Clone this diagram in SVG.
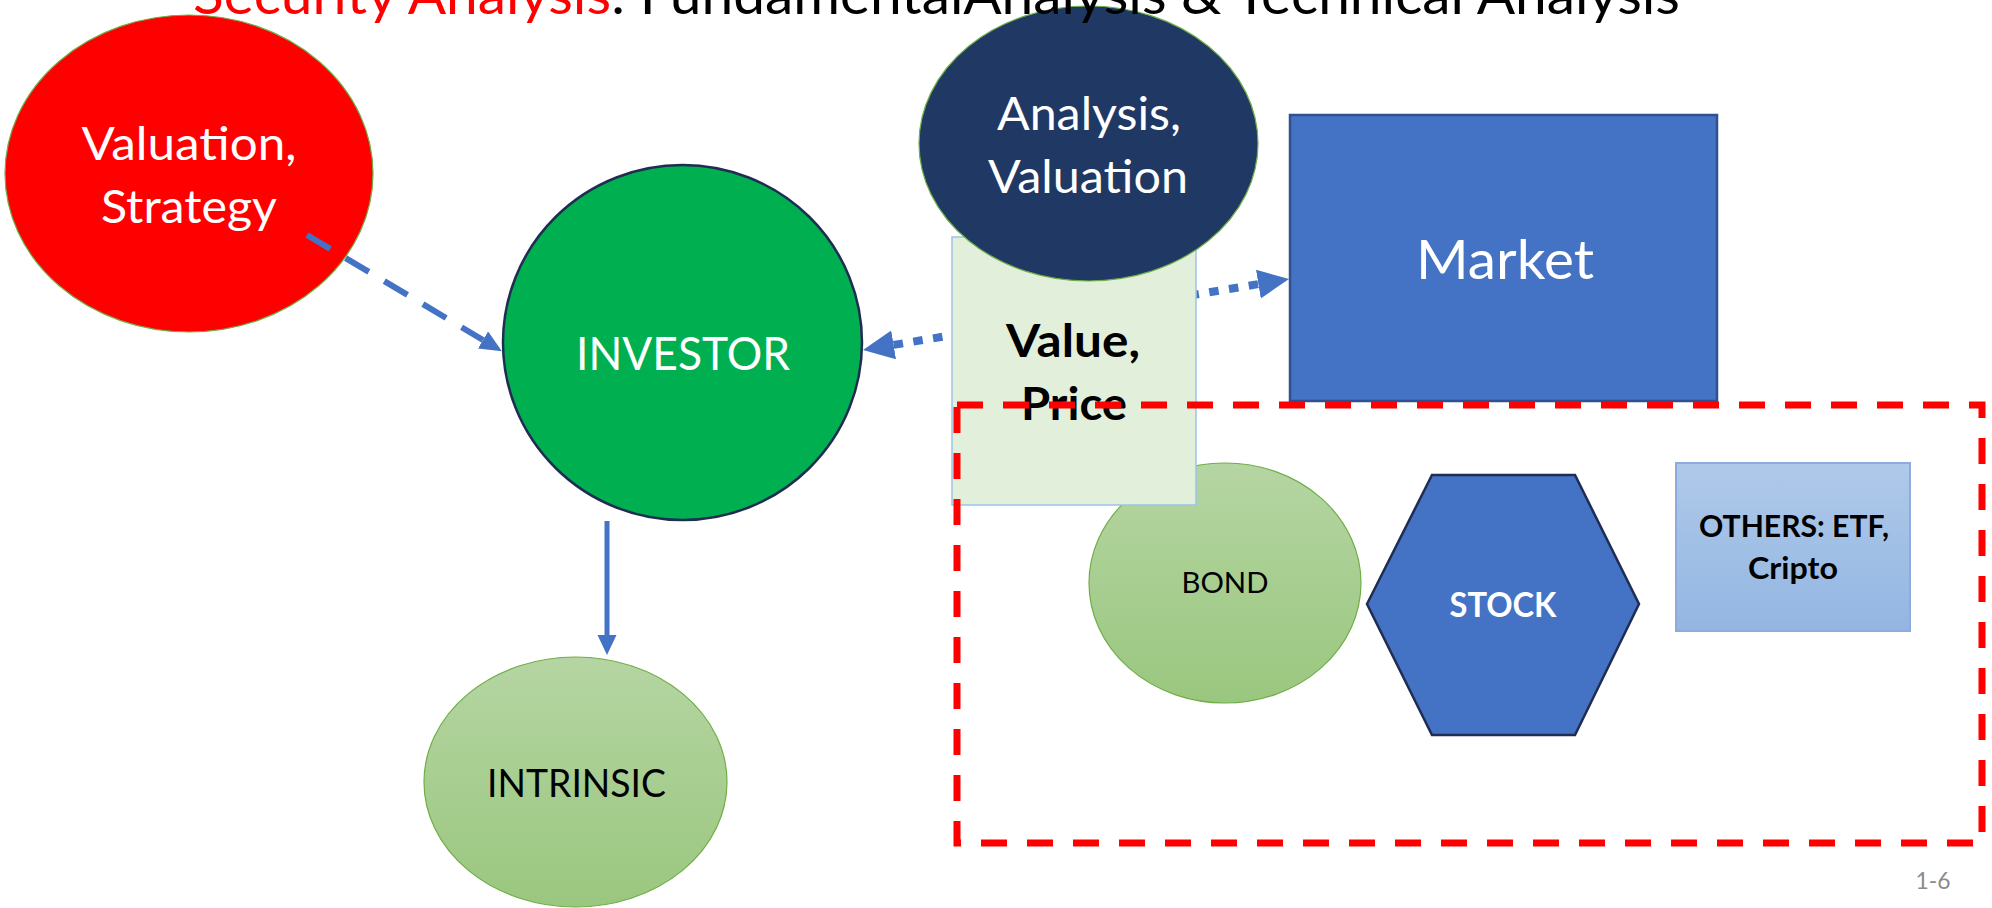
<svg xmlns="http://www.w3.org/2000/svg" width="1992" height="908" viewBox="0 0 1992 908">
  <style>
    text { font-family: Lato, "Liberation Sans", sans-serif; text-anchor: middle; }
    .w { fill: #FFFFFF; }
    .k { fill: #000000; }
    .b { font-weight: bold; }
    .conn { fill: none; stroke: #4472C4; }
    .thin-green { stroke: #70AD47; stroke-width: 1.2; }
  </style>
  <defs>
    <linearGradient id="gGreen" x1="0" y1="0" x2="0" y2="1">
      <stop offset="0" stop-color="#B5D5A2"/>
      <stop offset="1" stop-color="#9AC77F"/>
    </linearGradient>
    <linearGradient id="gBlue" x1="0" y1="0" x2="0" y2="1">
      <stop offset="0" stop-color="#AFC9E9"/>
      <stop offset="1" stop-color="#93B6E2"/>
    </linearGradient>
    <marker id="mDash" markerUnits="userSpaceOnUse" markerWidth="23" markerHeight="21" refX="0" refY="10" orient="auto">
      <path d="M0,0 L22,10 L0,20 Z" fill="#4472C4"/>
    </marker>
    <marker id="mSolid" markerUnits="userSpaceOnUse" markerWidth="21" markerHeight="20" refX="0" refY="9.5" orient="auto">
      <path d="M0,0 L20,9.5 L0,19 Z" fill="#4472C4"/>
    </marker>
    <marker id="mDot" markerUnits="userSpaceOnUse" markerWidth="32" markerHeight="30" refX="0" refY="14.5" orient="auto-start-reverse">
      <path d="M0,0 L31,14.5 L0,29 Z" fill="#4472C4"/>
    </marker>
  </defs>

  <rect width="1992" height="908" fill="#FFFFFF"/>

  <g id="node-valuation-strategy">
    <ellipse cx="189" cy="173.5" rx="184" ry="158.5" fill="#FF0000" class="thin-green"/>
    <text class="w" x="189" y="160" font-size="46" textLength="215" lengthAdjust="spacingAndGlyphs">Valuation,</text>
    <text class="w" x="189" y="223" font-size="46" textLength="176" lengthAdjust="spacingAndGlyphs">Strategy</text>
  </g>

  <g id="connectors">
    <line class="conn" x1="307" y1="235" x2="483" y2="340" stroke-width="6" stroke-dasharray="27 18" marker-end="url(#mDash)"/>
    <line class="conn" x1="607" y1="521" x2="607" y2="635" stroke-width="5" marker-end="url(#mSolid)"/>
    <line class="conn" x1="893.6" y1="344.9" x2="1258.4" y2="284.1" stroke-width="8" stroke-dasharray="9.5 10.5" marker-start="url(#mDot)" marker-end="url(#mDot)"/>
  </g>

  <g id="node-investor">
    <ellipse cx="682.5" cy="342.5" rx="179.5" ry="177.5" fill="#00B050" stroke="#1F2D52" stroke-width="2.5"/>
    <text class="w" x="683" y="370" font-size="46" textLength="214" lengthAdjust="spacingAndGlyphs">INVESTOR</text>
  </g>

  <g id="node-intrinsic">
    <ellipse cx="575.5" cy="782" rx="151.5" ry="125" fill="url(#gGreen)" class="thin-green"/>
    <text class="k" x="576.5" y="797" font-size="38" textLength="179" lengthAdjust="spacingAndGlyphs">INTRINSIC</text>
  </g>

  <g id="node-bond">
    <ellipse cx="1225" cy="583" rx="136" ry="120" fill="url(#gGreen)" class="thin-green"/>
    <text class="k" x="1225" y="593" font-size="29" textLength="87" lengthAdjust="spacingAndGlyphs">BOND</text>
  </g>

  <g id="node-value-price">
    <rect x="952" y="237" width="244" height="268" fill="#E2EFDA" stroke="#9DC3E6" stroke-width="1.5"/>
    <text class="k b" x="1073" y="357" font-size="46" textLength="134" lengthAdjust="spacingAndGlyphs">Value,</text>
    <text class="k b" x="1074" y="420" font-size="46" textLength="106" lengthAdjust="spacingAndGlyphs">Price</text>
  </g>

  <g id="node-analysis-valuation">
    <ellipse cx="1088.5" cy="143.5" rx="169.5" ry="137.5" fill="#203864" class="thin-green"/>
    <text class="w" x="1089" y="130" font-size="46" textLength="184" lengthAdjust="spacingAndGlyphs">Analysis,</text>
    <text class="w" x="1088" y="193" font-size="46" textLength="200" lengthAdjust="spacingAndGlyphs">Valuation</text>
  </g>

  <g id="node-market">
    <rect x="1290" y="115" width="427" height="286" fill="#4472C4" stroke="#2F528F" stroke-width="2.5"/>
    <text class="w" x="1505" y="279" font-size="54" textLength="178" lengthAdjust="spacingAndGlyphs">Market</text>
  </g>

  <g id="node-stock">
    <polygon points="1367,604 1432,475 1575,475 1639,604 1575,735 1432,735" fill="#4472C4" stroke="#1F2D52" stroke-width="2.5"/>
    <text class="w b" x="1503" y="617" font-size="34" textLength="107" lengthAdjust="spacingAndGlyphs">STOCK</text>
  </g>

  <g id="node-others">
    <rect x="1676" y="463" width="234" height="168" fill="url(#gBlue)" stroke="#8FAADC" stroke-width="2"/>
    <text class="k b" x="1794" y="537" font-size="30" textLength="190" lengthAdjust="spacingAndGlyphs">OTHERS: ETF,</text>
    <text class="k b" x="1793" y="579" font-size="30" textLength="90" lengthAdjust="spacingAndGlyphs">Cripto</text>
  </g>

  <g id="securities-boundary">
    <rect x="957" y="405" width="1025" height="438" fill="none" stroke="#FF0000" stroke-width="7" stroke-dasharray="26 20"/>
  </g>

  <g id="title">
    <text x="193" y="14" font-size="55" style="text-anchor:start" textLength="1487" lengthAdjust="spacingAndGlyphs"><tspan fill="#FF0000">Security Analysis</tspan><tspan fill="#000000">: FundamentalAnalysis &amp; Technical Analysis</tspan></text>
  </g>

  <g id="page-number">
    <text x="1933" y="889" font-size="23" fill="#8B8B8B" textLength="35" lengthAdjust="spacingAndGlyphs">1-6</text>
  </g>
</svg>
